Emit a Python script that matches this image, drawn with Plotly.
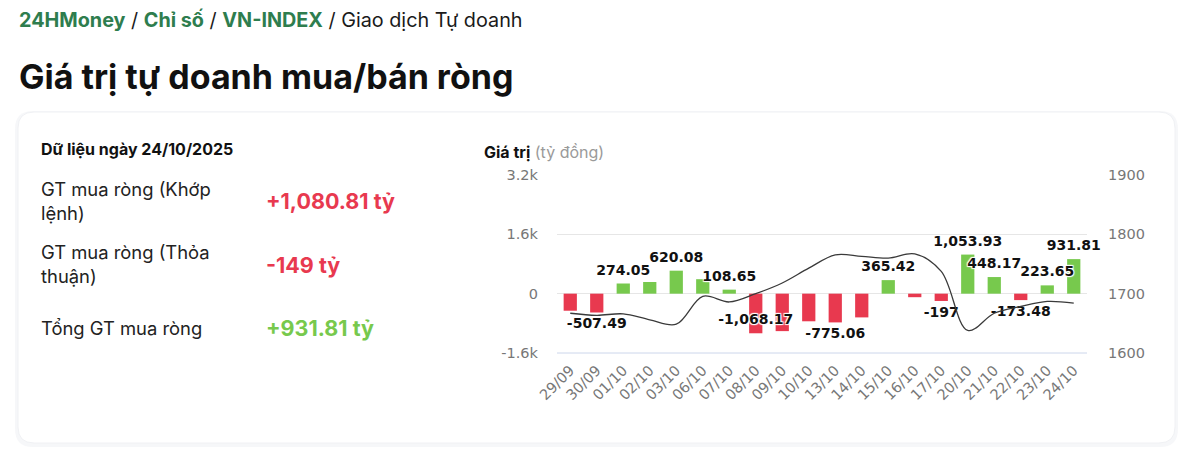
import plotly.graph_objects as go

# ── data ──────────────────────────────────────────────────────────────────────
dates = ['29/09', '30/09', '01/10', '02/10', '03/10', '06/10', '07/10', '08/10',
         '09/10', '10/10', '13/10', '14/10', '15/10', '16/10', '17/10', '20/10',
         '21/10', '22/10', '23/10', '24/10']
net_value = [-460, -507.49, 274.05, 315, 620.08, 390, 108.65, -1068.17,
             -1010, -745, -775.06, -640, 365.42, -95, -197, 1053.93,
             448.17, -173.48, 223.65, 931.81]
# Highcharts hides overlapping labels, so only some are shown
show_label = [0, 1, 1, 0, 1, 0, 1, 1,
              0, 0, 1, 0, 1, 0, 1, 1,
              1, 1, 1, 1]
vnindex = [1667, 1663.5, 1666, 1656, 1648.5, 1695.5, 1686, 1700,
           1718, 1743, 1765.5, 1763, 1760, 1767, 1737.5, 1638,
           1667, 1678.5, 1687, 1684]

left_ticks = [-1600, 0, 1600, 3200]
left_ticktext = ['-1.6k', '0', '1.6k', '3.2k']
right_ticks = [1600, 1700, 1800, 1900]

GREEN = '#77c94d'
RED = '#e8394f'
LINK = '#2e7d4e'
UI_FONT = 'Inter, Roboto, sans-serif'
CH_FONT = 'DejaVu Sans, Verdana, sans-serif'

# ── plot area in page pixels (page is 1200 x 464, body has an 8px margin) ────
OFF = 8
W, H = 1200 - 2 * OFF, 464 - 2 * OFF
L, R, T, B = 557, 1087, 175, 353


def px(x):
    return (x - L) / (R - L)


def py(y):
    return (B - y) / (B - T)


def fmt(v):
    return f'{v:,.0f}' if float(v).is_integer() else f'{v:,.2f}'


label_text = [fmt(v) if s else '' for v, s in zip(net_value, show_label)]
# the -1,068.17 label is justified inside the bar end (it would leave the plot)
label_pos = ['top center' if (v >= 0 or v < -1000) else 'bottom center' for v in net_value]

fig = go.Figure()

fig.add_trace(go.Bar(
    x=dates, y=net_value,
    marker=dict(color=[GREEN if v >= 0 else RED for v in net_value], line_width=0),
    yaxis='y', showlegend=False, hoverinfo='x+y',
))

fig.add_trace(go.Scatter(
    x=dates, y=vnindex, yaxis='y2',
    mode='lines', line=dict(color='#3a3a3a', width=1.3, shape='spline', smoothing=1.0),
    showlegend=False, hoverinfo='x+y',
))

fig.add_trace(go.Scatter(
    x=dates, y=net_value, yaxis='y',
    mode='markers+text', text=label_text, textposition=label_pos,
    marker=dict(size=7, color='rgba(0,0,0,0)'),
    textfont=dict(family=CH_FONT, size=14, color='#111', weight='bold',
                  shadow='1px 1px 1px #fff, -1px -1px 1px #fff, 1px -1px 1px #fff, -1px 1px 1px #fff'),
    cliponaxis=False, showlegend=False, hoverinfo='skip',
))

# ── card background ──────────────────────────────────────────────────────────
def rounded(x0, y0, x1, y1, r):
    rx, ry = r / (R - L), r / (B - T)
    a0, a1 = px(x0), px(x1)
    b0, b1 = py(y1), py(y0)  # bottom, top in paper units
    return (f'M {a0 + rx},{b1} L {a1 - rx},{b1} Q {a1},{b1} {a1},{b1 - ry} '
            f'L {a1},{b0 + ry} Q {a1},{b0} {a1 - rx},{b0} '
            f'L {a0 + rx},{b0} Q {a0},{b0} {a0},{b0 + ry} '
            f'L {a0},{b1 - ry} Q {a0},{b1} {a0 + rx},{b1} Z')


shapes = [
    dict(type='path', xref='paper', yref='paper', path=rounded(15, 111, 1178, 447, 18),
         fillcolor='rgba(200,205,215,0.16)', line_width=0, layer='below'),
    dict(type='path', xref='paper', yref='paper', path=rounded(18, 112, 1175, 443, 16),
         fillcolor='white', line=dict(color='#f0f1f4', width=1), layer='below'),
    # Highcharts-style bluish x axis line at the bottom of the plot
    dict(type='line', xref='paper', yref='paper', x0=0, x1=1, y0=0, y1=0,
         line=dict(color='#ccd6eb', width=1), layer='below'),
]

# ── texts ────────────────────────────────────────────────────────────────────
annotations = []


def note(x, y, text, size, color='#1a1a1a', family=UI_FONT):
    annotations.append(dict(
        x=px(x), y=py(y), xref='paper', yref='paper', text=text, showarrow=False,
        xanchor='left', yanchor='middle', align='left',
        font=dict(size=size, color=color, family=family)))


note(17, 20, f'<span style="color:{LINK}"><b>24HMoney</b></span> / '
             f'<span style="color:{LINK}"><b>Chỉ số</b></span> / '
             f'<span style="color:{LINK}"><b>VN-INDEX</b></span> / Giao dịch Tự doanh', 19.8)
note(17, 76, '<b>Giá trị tự doanh mua/bán ròng</b>', 34, color='#111')

note(39, 149, '<b>Dữ liệu ngày 24/10/2025</b>', 16, color='#111')
note(39, 201, 'GT mua ròng (Khớp<br>lệnh)', 18.4, color='#222')
note(264, 201, '<b>+1,080.81 tỷ</b>', 21.5, color=RED)
note(39, 264, 'GT mua ròng (Thỏa<br>thuận)', 18.4, color='#222')
note(264, 265, '<b>-149 tỷ</b>', 21.5, color=RED)
note(39, 328, 'Tổng GT mua ròng', 18.4, color='#222')
note(264, 328, '<b>+931.81 tỷ</b>', 21.5, color=GREEN)

note(482, 152, '<b>Giá trị</b> <span style="color:#9a9a9a">(tỷ đồng)</span>', 16, color='#111')

tick_font = dict(family=CH_FONT, size=14.5, color='#777')

fig.update_layout(
    width=W, height=H,
    margin=dict(l=L - OFF, r=W + OFF - R, t=T - OFF, b=H + OFF - B, pad=0),
    paper_bgcolor='white', plot_bgcolor='rgba(0,0,0,0)',
    bargap=0.5,
    shapes=shapes, annotations=annotations,
    xaxis=dict(type='category', range=[-0.5, len(dates) - 0.5], tickangle=-45,
               tickfont=tick_font, showgrid=False, showline=False, ticks='',
               ticklabelstandoff=5, fixedrange=True),
    yaxis=dict(range=[-1600, 3200], tickvals=left_ticks, ticktext=left_ticktext,
               tickfont=tick_font, gridcolor='#e6e6e6', gridwidth=1,
               zeroline=True, zerolinecolor='#e6e6e6', zerolinewidth=1,
               ticklabelstandoff=18, fixedrange=True),
    yaxis2=dict(range=[1600, 1900], tickvals=right_ticks, overlaying='y', side='right',
                tickfont=tick_font, showgrid=False, zeroline=False,
                ticklabelstandoff=20, fixedrange=True),
)

fig.write_html('out.html')
